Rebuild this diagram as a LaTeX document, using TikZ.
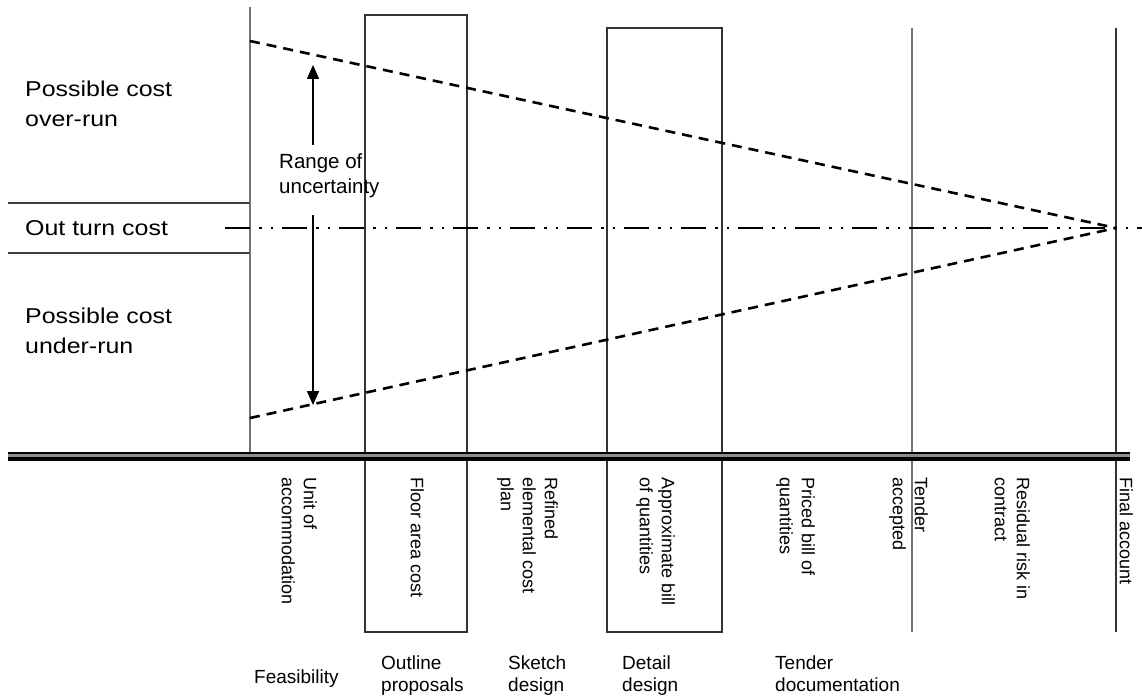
\documentclass[tikz,border=0pt]{standalone}
\usepackage{fontspec}
\setmainfont{Liberation Sans}
\newfontfamily\widefont[FakeStretch=1.16]{Liberation Sans}
\usetikzlibrary{arrows.meta}
\begin{document}
\begin{tikzpicture}[x=1pt,y=-1pt,
  bigtxt/.style={font=\widefont\fontsize{21.5}{30}\selectfont, anchor=base west, inner sep=0pt, align=left},
  midtxt/.style={font=\fontsize{20.5}{25}\selectfont, anchor=base west, inner sep=0pt, align=left},
  phasetxt/.style={font=\fontsize{19}{22}\selectfont, anchor=base west, inner sep=0pt, align=left},
  estim/.style={font=\fontsize{18}{22}\selectfont, rotate=-90, anchor=north west, inner sep=0pt, align=left},
  thinln/.style={draw=black!55, line width=1.4pt},
  boxln/.style={draw=black!80, line width=1.6pt},
  envelope/.style={line width=2.6pt, dash pattern=on 10pt off 7pt},
  outturn/.style={line width=2.6pt, dash pattern=on 25pt off 9pt on 2.5pt off 9pt on 2.5pt off 9pt},
  rangearrow/.style={line width=1.5pt, -{Triangle[length=14pt,width=12pt]}}]
\useasboundingbox (0,0) rectangle (1142,698);

% coordinates
\coordinate (lefttop) at (250,7);
\coordinate (leftbot) at (250,455);
\coordinate (upstart) at (250,41);
\coordinate (lowstart) at (250,418);
\coordinate (conv) at (1116,228);
\coordinate (otstart) at (225,228);
\coordinate (otend) at (1142,228);

% left axis and out-turn band
\draw[thinln] (lefttop) -- (leftbot);
\draw[thinln, draw=black!75] (8,203) -- (250,203);
\draw[thinln, draw=black!75] (8,253) -- (250,253);

% stage boxes and lines
\draw[boxln] (365,15) rectangle (467,632);
\draw[boxln] (607,28) rectangle (722,632);
\draw[thinln] (912,28) -- (912,632);
\draw[boxln] (1116,28) -- (1116,632);

% double base line
\draw[line width=9pt, black] (8,456) -- (1130,456);
\draw[line width=2.2pt, black!45] (8,455.5) -- (1130,455.5);

% envelope and out-turn line
\draw[outturn] (otstart) -- (otend);
\draw[envelope] (upstart) -- (conv);
\draw[envelope] (lowstart) -- (conv);

% range arrows
\coordinate (ua0) at (313,145);
\coordinate (ua1) at (313,65);
\coordinate (da0) at (313,215);
\coordinate (da1) at (313,405);
\draw[rangearrow] (ua0) -- (ua1);
\draw[rangearrow] (da0) -- (da1);

% left labels (anchor at baseline of last line)
\node[bigtxt] (over) at (25,127) {Possible cost\\over-run};
\node[bigtxt] (outc) at (25,235) {Out turn cost};
\node[bigtxt] (under) at (25,353) {Possible cost\\under-run};
\node[midtxt] (range) at (279,193) {Range of\\uncertainty};

% rotated estimate labels
\node[estim] (e1) at (317,477) {Unit of\\accommodation};
\node[estim] (e2) at (424,477) {Floor area cost};
\node[estim] (e3) at (558,477) {Refined\\elemental cost\\plan};
\node[estim] (e4) at (675,477) {Approximate bill\\of quantities};
\node[estim] (e5) at (815,477) {Priced bill of\\quantities};
\node[estim] (e6) at (928,477) {Tender\\accepted};
\node[estim] (e7) at (1030,477) {Residual risk in\\contract};
\node[estim] (e8) at (1133,477) {Final account};

% phase labels
\node[phasetxt] (p1) at (254,683) {Feasibility};
\node[phasetxt] (p2) at (381,691) {Outline\\proposals};
\node[phasetxt] (p3) at (508,691) {Sketch\\design};
\node[phasetxt] (p4) at (622,691) {Detail\\design};
\node[phasetxt] (p5) at (775,691) {Tender\\documentation};
\end{tikzpicture}
\end{document}
